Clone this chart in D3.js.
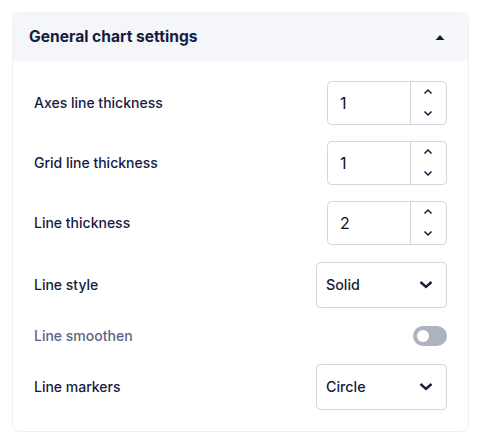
<!DOCTYPE html><html><head><meta charset="utf-8">
<script src="https://cdn.jsdelivr.net/npm/d3@7"></script>
<style>body{margin:0;background:#fff}</style></head><body><svg id="c" width="488" height="445"></svg>
<script>
const title = "General chart settings";
const labels = ["Axes line thickness","Grid line thickness","Line thickness","Line style","Line smoothen","Line markers"];
const kinds = ["number","number","number","select","toggle","select"];
const values = ["1","1","2","Solid","","Circle"];
const rowY = [103,163,223,285,336,387];

const svg = d3.select("#c");
const F = "Inter, 'Noto Sans', sans-serif";
const navy = "#161c3d";
svg.append("rect").attr("x",12.5).attr("y",12.5).attr("width",456).attr("height",419).attr("rx",8).attr("fill","#fff").attr("stroke","#eceef3");
svg.append("path").attr("d","M12.5,61 V20.5 a8,8 0 0 1 8,-8 H460.5 a8,8 0 0 1 8,8 V61 Z").attr("fill","#f5f6fa");
svg.append("text").attr("x",29).attr("y",42).attr("font-family",F).attr("font-size",15.6).attr("font-weight",700).attr("fill",navy).text(title);
svg.append("path").attr("d","M435.5,40 L440,35 L444.5,40 Z").attr("fill",navy);

const g = svg.selectAll("g.row").data(labels).join("g").attr("class","row");
g.append("text").attr("x",34).attr("y",(d,i)=>rowY[i]+5).attr("font-family",F).attr("font-size",14).attr("font-weight",500)
 .attr("fill",(d,i)=>kinds[i]==="toggle"?"#5b6383":navy).text(d=>d);

labels.forEach((l,i)=>{
  const y=rowY[i], k=kinds[i];
  if(k==="number"){
    svg.append("rect").attr("x",327.5).attr("y",y-21.5).attr("width",119).attr("height",43).attr("rx",4).attr("fill","#fff").attr("stroke","#d3d6df");
    svg.append("line").attr("x1",410.5).attr("x2",410.5).attr("y1",y-21.5).attr("y2",y+21.5).attr("stroke","#d3d6df");
    svg.append("text").attr("x",340).attr("y",y+6).attr("font-family",F).attr("font-size",16).attr("fill","#111").text(values[i]);
    svg.append("path").attr("d",`M424.5,${y-9.5} l3.5,-3.5 l3.5,3.5`).attr("fill","none").attr("stroke",navy).attr("stroke-width",1.5);
    svg.append("path").attr("d",`M424.5,${y+8.5} l3.5,3.5 l3.5,-3.5`).attr("fill","none").attr("stroke",navy).attr("stroke-width",1.5);
  } else if(k==="select"){
    svg.append("rect").attr("x",316.5).attr("y",y-22.5).attr("width",130).attr("height",45).attr("rx",4).attr("fill","#fff").attr("stroke","#d3d6df");
    svg.append("text").attr("x",326).attr("y",y+5).attr("font-family",F).attr("font-size",14.3).attr("font-weight",500).attr("fill",navy).text(values[i]);
    svg.append("path").attr("d",`M420.5,${y-3} l5.5,5 l5.5,-5`).attr("fill","none").attr("stroke",navy).attr("stroke-width",2.4);
  } else {
    svg.append("rect").attr("x",413).attr("y",y-10).attr("width",34).attr("height",20).attr("rx",10).attr("fill","#aeb2bf");
    svg.append("circle").attr("cx",423).attr("cy",y).attr("r",6).attr("fill","#fff");
  }
});
</script></body></html>
